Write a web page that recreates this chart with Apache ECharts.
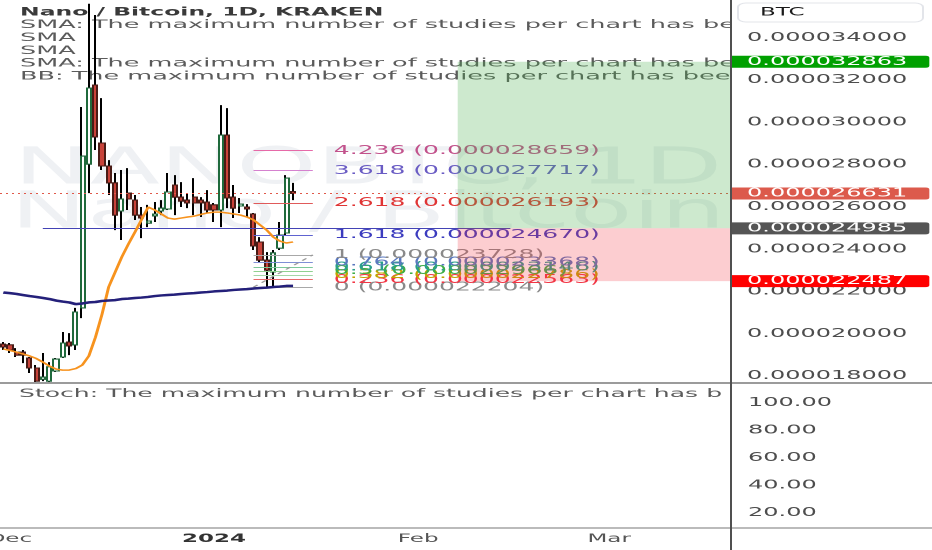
<!DOCTYPE html>
<html>
<head>
<meta charset="utf-8">
<script src="https://cdn.jsdelivr.net/npm/echarts@6/dist/echarts.min.js"></script>
<style>
html,body{margin:0;padding:0;background:#ffffff;overflow:hidden;width:932px;height:550px;}
#chart{width:466px;height:550px;transform:scaleX(2);transform-origin:0 0;}
</style>
</head>
<body>
<div id="chart"></div>
<script>
// Prices are in micro-BTC (1e-6 BTC); labels convert back to BTC.
const START_DATE = '2023-11-30';
const DAY_COUNT = 111;
const MONTHS = ['Jan','Feb','Mar','Apr','May','Jun','Jul','Aug','Sep','Oct','Nov','Dec'];

const OPEN  = [19.51,19.47,19.13,19.13,18.85,18.38,17.85,17.76,18.24,18.90,19.61,19.47,21.22,28.02,31.76,29.02,27.93,27.13,25.80,26.65,26.32,25.61,25.23,25.57,25.80,25.90,27.03,26.46,26.32,26.46,26.32,26.23,26.09,25.85,29.39,26.46,26.04,25.99,25.66,24.34,23.48,22.92,24.05,24.76,26.72];
const CLOSE = [19.37,19.23,18.99,18.99,18.38,17.76,17.95,18.43,18.80,19.56,19.42,21.03,28.40,31.62,29.30,27.93,27.13,25.61,26.37,26.37,25.61,25.47,25.33,25.66,25.94,26.70,26.46,26.27,26.18,26.18,26.18,25.85,25.85,29.39,26.42,25.94,26.13,25.90,24.15,23.48,23.01,23.82,24.67,27.36,26.631];
const LOW   = [19.23,19.09,18.90,18.61,18.14,17.67,17.76,17.72,18.19,18.85,18.99,19.23,20.74,26.65,28.69,27.74,26.56,24.90,24.43,25.85,25.38,24.52,25.04,25.28,25.61,25.85,25.61,25.99,25.94,25.61,25.52,25.71,25.28,25.04,25.94,25.47,25.71,25.52,23.96,23.39,22.204,22.204,23.96,24.67,26.32];
const HIGH  = [19.61,19.56,19.32,19.23,18.90,18.52,19.09,18.66,18.85,20.08,20.03,21.22,30.72,35.60,35.07,31.14,28.21,27.60,27.74,27.83,26.56,25.99,26.09,26.23,26.32,27.60,27.50,27.17,26.65,27.36,26.46,26.79,26.18,30.81,30.67,27.03,26.42,26.13,25.71,24.57,23.86,23.96,25.28,27.50,27.13];

const SMA_FAST = [19.28,19.21,19.13,19.04,18.95,18.83,18.66,18.47,18.33,18.28,18.28,18.35,18.52,18.95,19.84,20.93,22.21,22.92,23.63,24.24,24.81,25.40,25.99,25.85,25.66,25.47,25.42,25.47,25.52,25.56,25.64,25.71,25.75,25.75,25.71,25.66,25.61,25.52,25.38,25.14,24.90,24.57,24.38,24.29,24.34];
const SMA_SLOW = [21.95,21.92,21.88,21.83,21.78,21.74,21.69,21.64,21.57,21.52,21.48,21.40,21.43,21.48,21.50,21.55,21.57,21.59,21.64,21.66,21.69,21.71,21.74,21.78,21.81,21.83,21.85,21.88,21.90,21.92,21.95,21.97,22.00,22.02,22.04,22.07,22.09,22.11,22.14,22.16,22.18,22.21,22.23,22.26,22.26];

const PRICE_TICKS = [18,20,22,24,26,28,30,32,34];
const STOCH_TICKS = [20,40,60,80,100];

const CURRENT_PRICE = 26.631;
const ENTRY_PRICE = 24.985;
const TARGET_PRICE = 32.863;
const STOP_PRICE = 22.487;
const POSITION_START = 69;   // category index of the position tool's left edge
const ENTRY_LINE = [6, 77];  // category indices of the blue horizontal line

const FIB_LEVELS = [0, 0.236, 0.382, 0.5, 0.618, 0.764, 1, 1.618, 2.618, 3.618, 4.236];
const FIB_PRICES = [22.204, 22.563, 22.786, 22.966, 23.146, 23.368, 23.728, 24.670, 26.193, 27.717, 28.659];
const FIB_SPAN = [38, 47];
const FIB_LINE_COLORS = ['#a8a8a8','#e86a6a','#a5d6a7','#8fd18f','#7cc99a','#7f8fd6','#a8a8a8','#5f63d0','#e05a5a','#d582cf','#e66aa8'];
const FIB_TEXT_COLORS = ['#8a8a8a','#f23645','#c2a400','#3fae45','#2a9e8c','#5a78be','#8a8a8a','#3c3cbf','#e03535','#6a5cc4','#c2528c'];

const HEADER_LINES = [
  'Nano / Bitcoin, 1D, KRAKEN',
  'SMA: The maximum number of studies per chart has been reached',
  'SMA',
  'SMA',
  'SMA: The maximum number of studies per chart has been reached',
  'BB: The maximum number of studies per chart has been reached'
];
const STOCH_TEXT = 'Stoch: The maximum number of studies per chart has been reached';
const WATERMARK = ['NANOBTC, 1D', 'Nano / Bitcoin'];

const FONT = 'DejaVu Sans';

const CATS = [];
(function () {
  const p = START_DATE.split('-').map(Number);
  const t0 = Date.UTC(p[0], p[1] - 1, p[2]);
  for (let i = 0; i < DAY_COUNT; i++) CATS.push(new Date(t0 + i * 86400000).toISOString().slice(0, 10));
})();

const fmt = v => (v / 1e6).toFixed(9);
const CANDLES = OPEN.map((o, i) => [o, CLOSE[i], LOW[i], HIGH[i]]);
const BODIES = OPEN.map((o, i) => [o, CLOSE[i], Math.min(o, CLOSE[i]), Math.max(o, CLOSE[i])]);

function badge(bg, v) {
  return { show: true, position: 'end', distance: 0, formatter: fmt(v), color: '#ffffff',
    backgroundColor: bg, padding: [0, 11, 0, 8], lineHeight: 12, fontSize: 12, fontFamily: FONT,
    borderRadius: [0, 2, 2, 0] };
}
const HIDDEN_LINE = { width: 0, color: 'rgba(0,0,0,0)' };

const markLines = [];
FIB_LEVELS.forEach((lv, i) => {
  markLines.push([
    { coord: [CATS[FIB_SPAN[0]], FIB_PRICES[i]],
      lineStyle: { color: FIB_LINE_COLORS[i], width: 1, type: 'solid' },
      label: { show: true, position: 'end', distance: 10.5, formatter: lv + ' (' + fmt(FIB_PRICES[i]) + ')',
        color: FIB_TEXT_COLORS[i], fontSize: 12.5, fontFamily: FONT } },
    { coord: [CATS[FIB_SPAN[1]], FIB_PRICES[i]] }
  ]);
});
markLines.push([
  { coord: [CATS[FIB_SPAN[0]], FIB_PRICES[0]], lineStyle: { color: '#9a9a9a', width: 1, type: [3, 3] }, label: { show: false } },
  { coord: [CATS[FIB_SPAN[1]], FIB_PRICES[6]] }
]);
markLines.push([
  { coord: [CATS[ENTRY_LINE[0]], ENTRY_PRICE], lineStyle: { color: '#4343b5', width: 1, type: 'solid' }, label: { show: false } },
  { coord: [CATS[ENTRY_LINE[1]], ENTRY_PRICE] }
]);
markLines.push({ yAxis: CURRENT_PRICE, lineStyle: { color: '#e0584a', width: 1, type: [1, 2] }, label: badge('#dc5a4c', CURRENT_PRICE) });
markLines.push({ yAxis: ENTRY_PRICE, lineStyle: HIDDEN_LINE, label: badge('#555555', ENTRY_PRICE) });
markLines.push({ yAxis: TARGET_PRICE, lineStyle: HIDDEN_LINE, label: badge('#00a000', TARGET_PRICE) });
markLines.push({ yAxis: STOP_PRICE, lineStyle: HIDDEN_LINE, label: badge('#ff0000', STOP_PRICE) });

const HEADER_Y = [12.5, 25.2, 38, 50.8, 63.5, 76.5];
const headerGraphics = HEADER_LINES.map((t, i) => {
  const sx = i === 0 ? 1.02 : 1.11;
  return {
    type: 'text', z: 1, silent: true, x: 10, y: HEADER_Y[i], scaleX: sx,
    style: { text: t, x: 0, y: 0, width: 362 / sx, overflow: 'truncate', ellipsis: '',
      fill: i === 0 ? '#3a3a3a' : '#5b5b5b', font: (i === 0 ? 'bold ' : '') + '11.5px "DejaVu Sans"',
      verticalAlign: 'middle', align: 'left' }
  };
});

const chart = echarts.init(document.getElementById('chart'), null, { renderer: 'canvas', devicePixelRatio: 2 });
chart.setOption({
  animation: false,
  backgroundColor: '#ffffff',
  textStyle: { fontFamily: FONT },
  grid: [
    { left: 0, right: 100.5, top: 0, height: 383, outerBoundsMode: 'none', containLabel: false },
    { left: 0, right: 100.5, top: 385, height: 143, outerBoundsMode: 'none', containLabel: false }
  ],
  xAxis: [
    { type: 'category', gridIndex: 0, data: CATS, boundaryGap: true, show: false },
    { type: 'category', gridIndex: 1, data: CATS, boundaryGap: true,
      axisLine: { show: false }, axisTick: { show: false }, splitLine: { show: false },
      axisLabel: { margin: 5, fontSize: 11.5, fontFamily: FONT, color: '#555555',
        interval: (idx, val) => val.slice(8) === '01',
        formatter: val => { const m = +val.slice(5, 7); return m === 1 ? '{b|' + val.slice(0, 4) + '}' : MONTHS[m - 1]; },
        rich: { b: { fontWeight: 'bold', color: '#333333', fontSize: 11.5, fontFamily: FONT } } } }
  ],
  yAxis: [
    { type: 'value', gridIndex: 0, position: 'right', min: 17.67, max: 35.78, scale: true,
      axisLine: { show: false }, axisTick: { show: false }, splitLine: { show: false },
      axisLabel: { customValues: PRICE_TICKS, margin: 8, fontSize: 12, fontFamily: FONT, color: '#4d4d4d',
        formatter: v => fmt(v) } },
    { type: 'value', gridIndex: 1, position: 'right', min: 9.1, max: 113,
      axisLine: { show: false }, axisTick: { show: false }, splitLine: { show: false },
      axisLabel: { customValues: STOCH_TICKS, margin: 8.5, fontSize: 12, fontFamily: FONT, color: '#4d4d4d',
        formatter: v => v.toFixed(2) } }
  ],
  series: [
    { name: 'wicks', type: 'candlestick', xAxisIndex: 0, yAxisIndex: 0, data: CANDLES, barWidth: '80%', z: 3,
      itemStyle: { color: '#000000', color0: '#000000', borderColor: '#000000', borderColor0: '#000000', borderWidth: 1 } },
    { name: 'bodies', type: 'candlestick', xAxisIndex: 0, yAxisIndex: 0, data: BODIES, barWidth: '80%', z: 4,
      itemStyle: { color: '#ffffff', color0: '#c8433a', borderColor: '#1f6a3c', borderColor0: '#4a1c16', borderWidth: 1 } },
    { name: 'SMA fast', type: 'line', xAxisIndex: 0, yAxisIndex: 0, data: SMA_FAST, showSymbol: false, z: 5,
      lineStyle: { color: '#f7931e', width: 1.5 } },
    { name: 'SMA slow', type: 'line', xAxisIndex: 0, yAxisIndex: 0, data: SMA_SLOW, showSymbol: false, z: 5, clip: false,
      lineStyle: { color: '#24207a', width: 2.5 },
      markLine: { silent: true, symbol: ['none', 'none'], animation: false, z: 5, data: markLines },
      markArea: { silent: true, animation: false, z: 6, label: { show: false },
        data: [
          [{ xAxis: CATS[POSITION_START], yAxis: ENTRY_PRICE, itemStyle: { color: 'rgba(76,175,80,0.28)' } }, { yAxis: TARGET_PRICE }],
          [{ xAxis: CATS[POSITION_START], yAxis: STOP_PRICE, itemStyle: { color: 'rgba(242,54,69,0.25)' } }, { yAxis: ENTRY_PRICE }]
        ] } }
  ],
  graphic: [
    { type: 'text', z: 0, silent: true, style: { text: WATERMARK[0], x: 184, y: 170, align: 'center', verticalAlign: 'middle',
      fill: '#eff1f4', font: '51px "DejaVu Sans"' } },
    { type: 'text', z: 0, silent: true, style: { text: WATERMARK[1], x: 184, y: 214, align: 'center', verticalAlign: 'middle',
      fill: '#eff1f4', font: '51px "DejaVu Sans"' } },
    ...headerGraphics,
    { type: 'rect', z: 1.5, silent: true, shape: { x: 365.5, y: 0, width: 3, height: 84 }, style: { fill: '#ffffff' } },
    { type: 'text', z: 1, silent: true, x: 9.5, y: 394, scaleX: 1.09,
      style: { text: STOCH_TEXT, x: 0, y: 0, width: 356 / 1.09, overflow: 'truncate', ellipsis: '',
      fill: '#5b5b5b', font: '11.5px "DejaVu Sans"', verticalAlign: 'middle' } },
    { type: 'rect', z: 3, silent: true, shape: { x: 369, y: 3, width: 92.5, height: 19, r: 4 },
      style: { fill: '#ffffff', stroke: '#e3e5ea', lineWidth: 1 } },
    { type: 'text', z: 4, silent: true, style: { text: 'BTC', x: 380, y: 12.7, fill: '#1a1a1a', font: '11.5px "DejaVu Sans"', verticalAlign: 'middle' } },
    { type: 'line', z: 20, silent: true, shape: { x1: 0, y1: 383, x2: 466, y2: 383 }, style: { stroke: '#9b9b9b', lineWidth: 2 } },
    { type: 'line', z: 20, silent: true, shape: { x1: 0, y1: 528, x2: 466, y2: 528 }, style: { stroke: '#a5a5a5', lineWidth: 1.5 } },
    { type: 'line', z: 20, silent: true, shape: { x1: 365.5, y1: 0, x2: 365.5, y2: 550 }, style: { stroke: '#505050', lineWidth: 1 } }
  ]
});
</script>
</body>
</html>
